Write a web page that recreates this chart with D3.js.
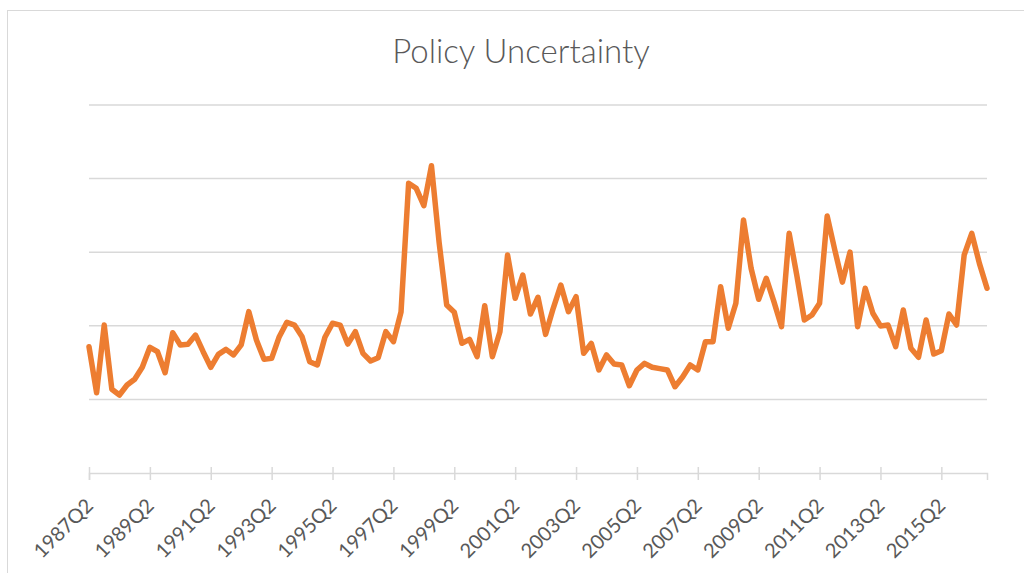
<!DOCTYPE html>
<html>
<head>
<meta charset="utf-8">
<script src="https://cdnjs.cloudflare.com/ajax/libs/d3/7.8.5/d3.min.js"></script>
<style>
  body { margin: 0; background: white; }
  svg { display: block; }
</style>
</head>
<body>
<svg id="chart" width="1024" height="573"></svg>
<script>
// quarterly index, 1987Q2 .. 2016Q4
const values = [
  85.8, 54.5, 100.5, 56.9, 53.0, 59.8, 63.7, 71.8, 85.4, 82.4,
  68.1, 95.3, 87.0, 87.4, 93.7, 82.4, 71.8, 80.6, 84.0, 80.2,
  87.0, 109.6, 90.3, 77.2, 77.9, 92.6, 102.4, 100.5, 92.6, 75.6,
  73.4, 92.2, 101.7, 100.5, 87.6, 96.0, 81.3, 76.1, 78.3, 96.0,
  89.2, 109.4, 196.8, 193.4, 181.6, 208.7, 156.9, 114.1, 109.2, 88.1,
  90.8, 79.0, 113.6, 79.0, 96.0, 148.1, 118.7, 134.5, 108.0, 119.4,
  94.2, 111.9, 127.7, 109.6, 119.8, 81.3, 88.1, 70.0, 80.2, 74.0,
  73.4, 59.3, 70.0, 74.5, 71.8, 70.9, 70.0, 58.6, 65.2, 73.4,
  70.0, 89.2, 89.2, 126.6, 98.3, 115.3, 171.9, 139.1, 118.0, 132.3,
  116.4, 99.4, 162.8, 134.5, 103.9, 107.3, 115.3, 174.6, 151.5, 129.7,
  150.1, 99.4, 125.5, 108.5, 99.9, 100.5, 85.8, 110.7, 84.7, 78.6,
  103.9, 80.8, 83.1, 108.0, 100.5, 148.1, 162.8, 142.4, 125.5
];

// category labels
const quarters = [];
for (let i = 0; i < values.length; i++) {
  const q = (1 + i) % 4 + 1;           // starts at Q2
  const yr = 1987 + Math.floor((i + 1) / 4);
  quarters.push(yr + "Q" + q);
}
const tickLabels = quarters.filter((d, i) => i % 8 === 0);
const gridValues = [0, 50, 100, 150, 200, 250];

const svg = d3.select("#chart");
const gridColor = "#d9d9d9";
const textColor = "#595959";

// outer chart border
svg.append("rect")
  .attr("x", 7.5).attr("y", 10.5)
  .attr("width", 1100).attr("height", 700)
  .attr("fill", "none")
  .attr("stroke", gridColor)
  .attr("stroke-width", 1);

const x = d3.scalePoint().domain(quarters).range([89, 987]).padding(0);
const y = d3.scaleLinear().domain([0, 250]).range([473, 105]);

// title
svg.append("text")
  .attr("x", 521).attr("y", 63)
  .attr("text-anchor", "middle")
  .attr("font-family", "Lato, 'Open Sans', sans-serif")
  .attr("font-weight", 300)
  .attr("font-size", "33px")
  .attr("fill", textColor)
  .text("Policy Uncertainty");

// horizontal gridlines
svg.append("g")
  .selectAll("line")
  .data(gridValues.filter(d => d > 0))
  .enter()
  .append("line")
    .attr("x1", 89).attr("x2", 987)
    .attr("y1", d => y(d)).attr("y2", d => y(d))
    .attr("stroke", gridColor)
    .attr("stroke-width", 1.5);

// x axis
const xAxis = d3.axisBottom(x).tickValues(tickLabels).tickSize(7).tickPadding(4);
const gx = svg.append("g")
  .attr("transform", "translate(0," + y(0) + ")")
  .call(xAxis);
gx.select(".domain").attr("stroke", gridColor).attr("stroke-width", 1.5);
gx.selectAll(".tick line")
  .attr("y1", -6).attr("y2", 7)
  .attr("stroke", gridColor).attr("stroke-width", 1.5);
gx.selectAll(".tick text")
  .attr("font-family", "Lato, 'Open Sans', sans-serif")
  .attr("font-size", "20px")
  .attr("fill", textColor)
  .attr("text-anchor", "end")
  .attr("x", 0).attr("y", 0)
  .attr("dy", "0.35em")
  .attr("transform", "translate(0,29) rotate(-45)");

// the series
const line = d3.line()
  .x((d, i) => x(quarters[i]))
  .y(d => y(d));

svg.append("path")
  .datum(values)
  .attr("d", line)
  .attr("fill", "none")
  .attr("stroke", "#ED7D31")
  .attr("stroke-width", 5.5)
  .attr("stroke-linejoin", "round")
  .attr("stroke-linecap", "round");
</script>
</body>
</html>
